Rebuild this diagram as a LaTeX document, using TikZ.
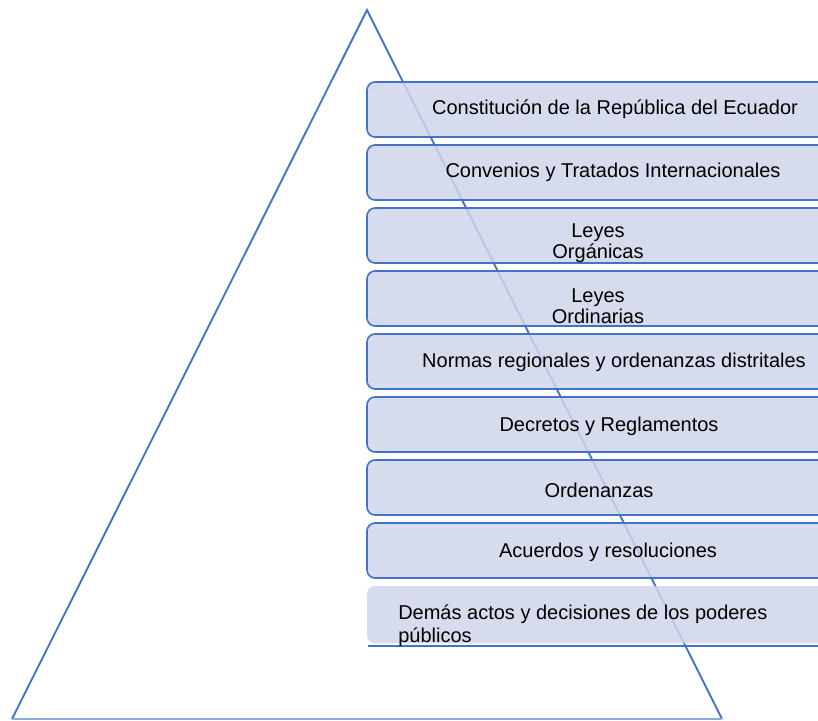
\documentclass[tikz,border=0pt]{standalone}
\usepackage{fontspec}
\setmainfont{Liberation Sans}
\definecolor{triblue}{HTML}{4472C4}
\definecolor{boxfill}{HTML}{CFD5EA}
\definecolor{lightblue}{HTML}{8EA9DB}
\tikzset{
  tri/.style={draw=triblue, line width=1.4pt, line join=miter},
  levelbox/.style={draw=triblue, line width=1.2pt, fill=boxfill, fill opacity=0.85,
    rounded corners=6pt, anchor=north west, minimum width=375pt, minimum height=41.25pt,
    inner sep=0pt, outer sep=0pt},
  lastbox/.style={fill=boxfill, fill opacity=0.85, draw=none,
    rounded corners=6pt, anchor=north west, minimum width=375pt, minimum height=43pt,
    inner sep=0pt, outer sep=0pt},
  lbl/.style={font=\fontsize{15}{16}\selectfont, text=black, inner sep=0pt, align=center},
  lbll/.style={font=\fontsize{15}{17.5}\selectfont, text=black, inner sep=0pt, align=left, anchor=west}
}
\begin{document}
\begin{tikzpicture}[x=0.75pt, y=-0.75pt]
\useasboundingbox (0,0) rectangle (818,721);
\clip (0,0) rectangle (818,721);
\fill[white] (0,0) rectangle (818,721);
% triangle
\coordinate (apex) at (367,10);
\coordinate (bl) at (12,719);
\coordinate (br) at (722,719);
\draw[tri] (bl) -- (apex) -- (br);
\draw[draw=lightblue, line width=1.4pt] (bl) -- (br);
% boxes
\node[levelbox] (b1) at (367,82) {};
\node[levelbox] (b2) at (367,145) {};
\node[levelbox] (b3) at (367,208) {};
\node[levelbox] (b4) at (367,271) {};
\node[levelbox] (b5) at (367,334) {};
\node[levelbox] (b6) at (367,397) {};
\node[levelbox] (b7) at (367,460) {};
\node[levelbox] (b8) at (367,523) {};
\node[lastbox] (b9) at (367,586) {};
\coordinate (l9a) at (368,646);
\coordinate (l9b) at (870,646);
\draw[draw=triblue, line width=1.2pt] (l9a) -- (l9b);
% labels
\node[lbl] (t1) at (615,109) {Constitución de la República del Ecuador};
\node[lbl] (t2) at (613,172) {Convenios y Tratados Internacionales};
\node[lbl] (t3) at (598,243) {Leyes\\Orgánicas};
\node[lbl] (t4) at (598,306) {Leyes\\Ordinarias};
\node[lbl] (t5) at (614,362) {Normas regionales y ordenanzas distritales};
\node[lbl] (t6) at (609,426) {Decretos y Reglamentos};
\node[lbl] (t7) at (599,490) {Ordenanzas};
\node[lbl] (t8) at (608,552) {Acuerdos y resoluciones};
\node[lbll] (t9) at (398,626) {Demás actos y decisiones de los poderes\\públicos};
\end{tikzpicture}
\end{document}
